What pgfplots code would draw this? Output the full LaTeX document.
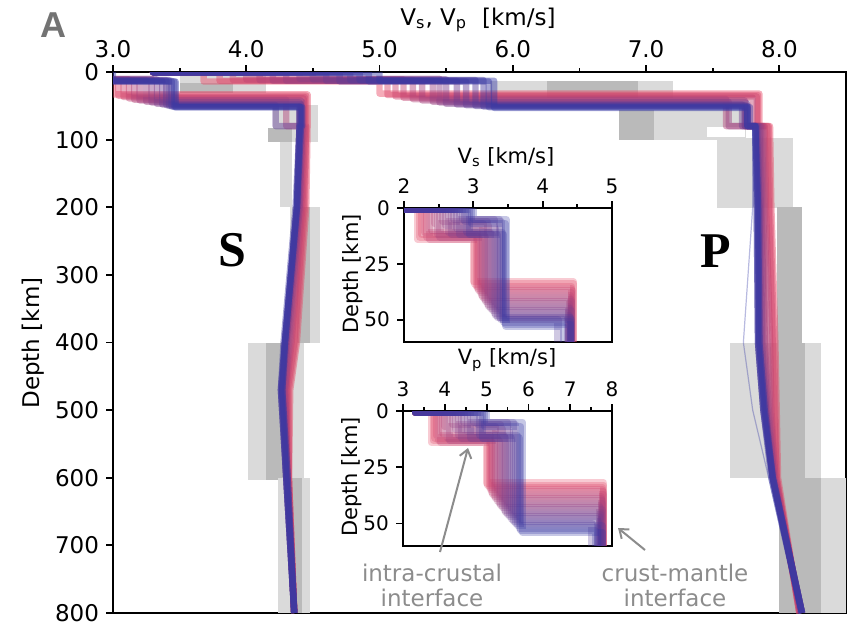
\documentclass[border=0pt]{standalone}
\usepackage{fontspec}
\setmainfont{DejaVu Sans}
\newfontfamily\bigserif{Liberation Serif}
\newfontfamily\panelfont{Liberation Sans}
\usepackage{pgfplots}
\pgfplotsset{compat=1.18}
\usetikzlibrary{arrows.meta}
\definecolor{myred}{RGB}{232,70,100}
\definecolor{myblue}{RGB}{52,56,165}
\definecolor{lgray}{RGB}{218,218,218}
\definecolor{dgray}{RGB}{186,186,186}
\definecolor{anno}{RGB}{140,140,140}
\pgfplotsset{
  every axis/.append style={
    /pgf/number format/assume math mode=true,
    tick align=outside, axis line style={line width=1pt},
    major tick length=3.5pt, minor tick length=2pt,
    tick style={black, line width=0.9pt},
    y dir=reverse, scale only axis, no markers,
    xtick pos=right, xticklabel pos=right, ytick pos=left,
  },
  prof/.style={draw=myred!#1!myblue, line width=3.2pt, opacity=0.45, line join=round},
  iprof/.style={draw=myred!#1!myblue, line width=3.6pt, opacity=0.28, line join=round},
  lbox/.style={fill=lgray, draw=none},
  dbox/.style={fill=dgray, draw=none},
}
\begin{document}
\begin{tikzpicture}
% ---------------- main axis ----------------
\begin{axis}[at={(56.5pt,-36pt)}, anchor=north west,
  width=366.5pt, height=270.5pt,
  xmin=3, xmax=8.5, ymin=0, ymax=800,
  xtick={3,4,5,6,7,8}, xticklabels={3.0,4.0,5.0,6.0,7.0,8.0},
  minor xtick={3.5,4.5,5.5,6.5,7.5},
  ytick={0,100,200,300,400,500,600,700,800},
  ticklabel style={font=\fontsize{11.5}{12}\selectfont},
]
% grey boxes: S
\addplot[lbox] coordinates {(3.5,4) (4.15,4) (4.15,31) (3.5,31)};
\addplot[dbox] coordinates {(3.5,16) (3.9,16) (3.9,31) (3.5,31)};
\addplot[lbox] coordinates {(4.2,49) (4.54,49) (4.54,103) (4.2,103)};
\addplot[dbox] coordinates {(4.16,83) (4.34,83) (4.34,103) (4.16,103)};
\addplot[lbox] coordinates {(4.25,103) (4.34,103) (4.34,200) (4.25,200)};
\addplot[lbox] coordinates {(4.33,200) (4.55,200) (4.55,401) (4.33,401)};
\addplot[dbox] coordinates {(4.38,200) (4.48,200) (4.48,401) (4.38,401)};
\addplot[lbox] coordinates {(4.01,400) (4.43,400) (4.43,603) (4.01,603)};
\addplot[dbox] coordinates {(4.15,400) (4.33,400) (4.33,603) (4.15,603)};
\addplot[lbox] coordinates {(4.24,600) (4.48,600) (4.48,800) (4.24,800)};
\addplot[dbox] coordinates {(4.33,600) (4.42,600) (4.42,800) (4.33,800)};
% grey boxes: P
\addplot[lbox] coordinates {(5.83,14) (7.2,14) (7.2,38) (5.83,38)};
\addplot[dbox] coordinates {(6.26,14) (6.94,14) (6.94,38) (6.26,38)};
\addplot[dbox] coordinates {(6.8,56) (7.06,56) (7.06,100) (6.8,100)};
\addplot[lbox] coordinates {(7.06,56) (7.75,56) (7.75,100) (7.06,100)};
\addplot[fill=white, draw=none] coordinates {(7.46,81) (7.74,81) (7.74,96) (7.46,96)};
\addplot[lbox] coordinates {(7.53,98) (8.1,98) (8.1,201) (7.53,201)};
\addplot[dbox] coordinates {(7.98,200) (8.17,200) (8.17,400) (7.98,400)};
\addplot[lbox] coordinates {(7.63,400) (8.31,400) (8.31,600) (7.63,600)};
\addplot[dbox] coordinates {(7.98,400) (8.19,400) (8.19,600) (7.98,600)};
\addplot[lbox] coordinates {(8.31,600) (8.5,600) (8.5,800) (8.31,800)};
\addplot[dbox] coordinates {(8.0,600) (8.31,600) (8.31,800) (8.0,800)};
% S profiles
\addplot[prof=100] coordinates {(2.0,0) (2.0,0.5) (2.20,0.5) (2.20,14) (3.00,14) (3.00,33) (4.46,33) (4.46,80) (4.46,80) (4.45,200) (4.38,400) (4.33,470) (4.32,600) (4.36,800)};
\addplot[prof=92] coordinates {(2.0,0) (2.0,0.5) (2.28,0.5) (2.28,13) (3.04,13) (3.04,35) (4.45,35) (4.45,80) (4.45,80) (4.44,200) (4.37,400) (4.32,470) (4.32,600) (4.36,800)};
\addplot[prof=85] coordinates {(2.0,0) (2.0,0.5) (2.35,0.5) (2.35,12) (3.08,12) (3.08,37) (4.44,37) (4.44,80) (4.45,80) (4.43,200) (4.36,400) (4.31,470) (4.32,600) (4.36,800)};
\addplot[prof=78] coordinates {(2.0,0) (2.0,0.5) (2.42,0.5) (2.42,11) (3.12,11) (3.12,39) (4.43,39) (4.43,80) (4.44,80) (4.42,200) (4.34,400) (4.30,470) (4.31,600) (4.36,800)};
\addplot[prof=70] coordinates {(2.0,0) (2.0,0.5) (2.50,0.5) (2.50,12) (3.16,12) (3.16,41) (4.30,41) (4.30,80) (4.43,80) (4.41,200) (4.33,400) (4.29,470) (4.31,600) (4.36,800)};
\addplot[prof=62] coordinates {(2.0,0) (2.0,0.5) (2.58,0.5) (2.58,13) (3.20,13) (3.20,42) (4.41,42) (4.41,80) (4.42,80) (4.40,200) (4.32,400) (4.29,470) (4.31,600) (4.36,800)};
\addplot[prof=55] coordinates {(2.0,0) (2.0,0.5) (2.65,0.5) (2.65,12) (3.25,12) (3.25,44) (4.42,44) (4.42,80) (4.42,80) (4.40,200) (4.31,400) (4.28,470) (4.31,600) (4.36,800)};
\addplot[prof=48] coordinates {(2.0,0) (2.0,0.5) (2.72,0.5) (2.72,10) (3.29,10) (3.29,45) (4.40,45) (4.40,80) (4.41,80) (4.39,200) (4.30,400) (4.27,470) (4.31,600) (4.36,800)};
\addplot[prof=40] coordinates {(2.0,0) (2.0,0.5) (2.80,0.5) (2.80,11) (3.33,11) (3.33,47) (4.41,47) (4.41,80) (4.41,80) (4.39,200) (4.30,400) (4.27,470) (4.31,600) (4.36,800)};
\addplot[prof=32] coordinates {(2.0,0) (2.0,0.5) (2.85,0.5) (2.85,13) (3.37,13) (3.37,48) (4.41,48) (4.41,80) (4.40,80) (4.38,200) (4.29,400) (4.27,470) (4.30,600) (4.36,800)};
\addplot[prof=25] coordinates {(2.0,0) (2.0,0.5) (2.90,0.5) (2.90,12) (3.40,12) (3.40,49) (4.22,49) (4.22,80) (4.40,80) (4.38,200) (4.29,400) (4.27,470) (4.30,600) (4.36,800)};
\addplot[prof=18] coordinates {(2.0,0) (2.0,0.5) (2.92,0.5) (2.92,12) (3.42,12) (3.42,50) (4.40,50) (4.40,80) (4.40,80) (4.38,200) (4.29,400) (4.26,470) (4.30,600) (4.36,800)};
\addplot[prof=10] coordinates {(2.0,0) (2.0,0.5) (2.95,0.5) (2.95,13) (3.44,13) (3.44,51) (4.40,51) (4.40,80) (4.40,80) (4.38,200) (4.29,400) (4.26,470) (4.30,600) (4.36,800)};
\addplot[prof=5] coordinates {(2.0,0) (2.0,0.5) (2.98,0.5) (2.98,14) (3.46,14) (3.46,52) (4.41,52) (4.41,80) (4.40,80) (4.37,200) (4.28,400) (4.26,470) (4.30,600) (4.36,800)};
\addplot[prof=0] coordinates {(2.0,0) (2.0,0.5) (3.00,0.5) (3.00,14) (3.47,14) (3.47,52) (4.42,52) (4.42,80) (4.41,80) (4.38,200) (4.29,400) (4.27,470) (4.31,600) (4.36,800)};
% P profiles
\addplot[prof=100] coordinates {(3.3,0) (3.3,0.5) (3.68,0.5) (3.68,14) (5.00,14) (5.00,32) (7.85,32) (7.85,80) (7.93,80) (7.94,200) (7.97,400) (7.98,500) (7.99,600) (8.15,800)};
\addplot[prof=92] coordinates {(3.3,0) (3.3,0.5) (3.80,0.5) (3.80,13) (5.06,13) (5.06,34) (7.84,34) (7.84,80) (7.92,80) (7.93,200) (7.96,400) (7.97,500) (7.98,600) (8.15,800)};
\addplot[prof=85] coordinates {(3.3,0) (3.3,0.5) (3.90,0.5) (3.90,12) (5.12,12) (5.12,36) (7.83,36) (7.83,80) (7.91,80) (7.92,200) (7.95,400) (7.96,500) (7.98,600) (8.15,800)};
\addplot[prof=78] coordinates {(3.3,0) (3.3,0.5) (4.00,0.5) (4.00,11) (5.18,11) (5.18,38) (7.80,38) (7.80,80) (7.89,80) (7.90,200) (7.93,400) (7.94,500) (7.97,600) (8.16,800)};
\addplot[prof=70] coordinates {(3.3,0) (3.3,0.5) (4.10,0.5) (4.10,12) (5.25,12) (5.25,40) (7.60,40) (7.60,80) (7.88,80) (7.89,200) (7.91,400) (7.93,500) (7.97,600) (8.16,800)};
\addplot[prof=62] coordinates {(3.3,0) (3.3,0.5) (4.20,0.5) (4.20,13) (5.32,13) (5.32,42) (7.74,42) (7.74,80) (7.87,80) (7.88,200) (7.89,400) (7.92,500) (7.96,600) (8.16,800)};
\addplot[prof=55] coordinates {(3.3,0) (3.3,0.5) (4.30,0.5) (4.30,13) (5.40,13) (5.40,44) (7.62,44) (7.62,80) (7.86,80) (7.87,200) (7.88,400) (7.91,500) (7.96,600) (8.16,800)};
\addplot[prof=48] coordinates {(3.3,0) (3.3,0.5) (4.40,0.5) (4.40,10) (5.45,10) (5.45,45) (7.75,45) (7.75,80) (7.85,80) (7.86,200) (7.87,400) (7.90,500) (7.95,600) (8.17,800)};
\addplot[prof=40] coordinates {(3.3,0) (3.3,0.5) (4.50,0.5) (4.50,11) (5.50,11) (5.50,47) (7.76,47) (7.76,80) (7.84,80) (7.85,200) (7.86,400) (7.90,500) (7.95,600) (8.17,800)};
\addplot[prof=32] coordinates {(3.3,0) (3.3,0.5) (4.60,0.5) (4.60,13) (5.58,13) (5.58,48) (7.72,48) (7.72,80) (7.83,80) (7.85,200) (7.85,400) (7.89,500) (7.95,600) (8.17,800)};
\addplot[prof=25] coordinates {(3.3,0) (3.3,0.5) (4.70,0.5) (4.70,14) (5.65,14) (5.65,49) (7.74,49) (7.74,80) (7.83,80) (7.84,200) (7.85,400) (7.89,500) (7.95,600) (8.17,800)};
\addplot[prof=18] coordinates {(3.3,0) (3.3,0.5) (4.78,0.5) (4.78,12) (5.72,12) (5.72,50) (7.76,50) (7.76,80) (7.82,80) (7.84,200) (7.84,400) (7.88,500) (7.95,600) (8.17,800)};
\addplot[prof=10] coordinates {(3.3,0) (3.3,0.5) (4.85,0.5) (4.85,12) (5.78,12) (5.78,51) (7.76,51) (7.76,80) (7.82,80) (7.83,200) (7.84,400) (7.88,500) (7.95,600) (8.17,800)};
\addplot[prof=5] coordinates {(3.3,0) (3.3,0.5) (4.92,0.5) (4.92,14) (5.82,14) (5.82,52) (7.78,52) (7.78,80) (7.82,80) (7.83,200) (7.84,400) (7.88,500) (7.94,600) (8.17,800)};
\addplot[prof=0] coordinates {(3.3,0) (3.3,0.5) (5.00,0.5) (5.00,13) (5.86,13) (5.86,53) (7.76,53) (7.76,80) (7.82,80) (7.84,200) (7.85,400) (7.89,500) (7.95,600) (8.17,800)};
\addplot[draw=myblue, line width=0.6pt, opacity=0.35] coordinates {(7.80,80) (7.80,200) (7.73,400) (7.80,500) (7.92,600) (8.15,800)};
\end{axis}
% ---------------- inset Vs ----------------
\begin{axis}[at={(202pt,-104pt)}, anchor=north west,
  width=104pt, height=67pt,
  xmin=2, xmax=5, ymin=0, ymax=60,
  xtick={2,3,4,5}, minor xtick={2.5,3.5,4.5},
  ytick={0,25,50},
  ticklabel style={font=\fontsize{10}{10}\selectfont},
  axis background/.style={fill=white},
]
\addplot[iprof=100] coordinates {(2.0,0) (2.0,0.6) (2.20,0.6) (2.20,14) (3.00,14) (3.00,33) (4.44,33) (4.44,60)};
\addplot[iprof=95] coordinates {(2.0,0) (2.0,0.6) (2.23,0.6) (2.23,13) (3.02,13) (3.02,34) (4.45,34) (4.45,60)};
\addplot[iprof=91] coordinates {(2.0,0) (2.0,0.6) (2.26,0.6) (2.26,12) (3.04,12) (3.04,35) (4.42,35) (4.42,60)};
\addplot[iprof=86] coordinates {(2.0,0) (2.0,0.6) (2.30,0.6) (2.30,11) (3.06,11) (3.06,36) (4.41,36) (4.41,60)};
\addplot[iprof=82] coordinates {(2.0,0) (2.0,0.6) (2.33,0.6) (2.33,13) (3.08,13) (3.08,37) (4.43,37) (4.43,60)};
\addplot[iprof=77] coordinates {(2.0,0) (2.0,0.6) (2.37,0.6) (2.37,14) (3.10,14) (3.10,38) (4.42,38) (4.42,60)};
\addplot[iprof=73] coordinates {(2.0,0) (2.0,0.6) (2.40,0.6) (2.40,10) (3.12,10) (3.12,39) (4.40,39) (4.40,60)};
\addplot[iprof=68] coordinates {(2.0,0) (2.0,0.6) (2.44,0.6) (2.44,7) (3.14,7) (3.14,40) (4.39,40) (4.39,60)};
\addplot[iprof=64] coordinates {(2.0,0) (2.0,0.6) (2.48,0.6) (2.48,12) (3.16,12) (3.16,41) (4.41,41) (4.41,60)};
\addplot[iprof=59] coordinates {(2.0,0) (2.0,0.6) (2.52,0.6) (2.52,13) (3.18,13) (3.18,42) (4.42,42) (4.42,60)};
\addplot[iprof=55] coordinates {(2.0,0) (2.0,0.6) (2.56,0.6) (2.56,6) (3.20,6) (3.20,43) (4.38,43) (4.38,60)};
\addplot[iprof=50] coordinates {(2.0,0) (2.0,0.6) (2.60,0.6) (2.60,8) (3.22,8) (3.22,44) (4.37,44) (4.37,60)};
\addplot[iprof=45] coordinates {(2.0,0) (2.0,0.6) (2.64,0.6) (2.64,11) (3.25,11) (3.25,45) (4.40,45) (4.40,60)};
\addplot[iprof=41] coordinates {(2.0,0) (2.0,0.6) (2.68,0.6) (2.68,12) (3.28,12) (3.28,46) (4.41,46) (4.41,60)};
\addplot[iprof=36] coordinates {(2.0,0) (2.0,0.6) (2.72,0.6) (2.72,5) (3.30,5) (3.30,47) (4.36,47) (4.36,60)};
\addplot[iprof=32] coordinates {(2.0,0) (2.0,0.6) (2.76,0.6) (2.76,9) (3.32,9) (3.32,48) (4.38,48) (4.38,60)};
\addplot[iprof=27] coordinates {(2.0,0) (2.0,0.6) (2.80,0.6) (2.80,12) (3.35,12) (3.35,49) (4.40,49) (4.40,60)};
\addplot[iprof=23] coordinates {(2.0,0) (2.0,0.6) (2.84,0.6) (2.84,5) (3.38,5) (3.38,49) (4.40,49) (4.40,60)};
\addplot[iprof=18] coordinates {(2.0,0) (2.0,0.6) (2.88,0.6) (2.88,6) (3.40,6) (3.40,50) (4.22,50) (4.22,60)};
\addplot[iprof=14] coordinates {(2.0,0) (2.0,0.6) (2.91,0.6) (2.91,11) (3.42,11) (3.42,50) (4.41,50) (4.41,60)};
\addplot[iprof=9] coordinates {(2.0,0) (2.0,0.6) (2.94,0.6) (2.94,12) (3.44,12) (3.44,51) (4.40,51) (4.40,60)};
\addplot[iprof=5] coordinates {(2.0,0) (2.0,0.6) (2.97,0.6) (2.97,7) (3.46,7) (3.46,52) (4.40,52) (4.40,60)};
\addplot[iprof=0] coordinates {(2.0,0) (2.0,0.6) (3.00,0.6) (3.00,5) (3.47,5) (3.47,53) (4.30,53) (4.30,60)};
\end{axis}
% ---------------- inset Vp ----------------
\begin{axis}[at={(201.5pt,-205.5pt)}, anchor=north west,
  width=104.5pt, height=67.5pt,
  xmin=3, xmax=8, ymin=0, ymax=60,
  xtick={3,4,5,6,7,8}, minor xtick={3.5,4.5,5.5,6.5,7.5},
  ytick={0,25,50},
  ticklabel style={font=\fontsize{10}{10}\selectfont},
  axis background/.style={fill=white},
]
\addplot[iprof=100] coordinates {(3.3,0) (3.3,0.6) (3.68,0.6) (3.68,14) (5.00,14) (5.00,32) (7.80,32) (7.80,60)};
\addplot[iprof=95] coordinates {(3.3,0) (3.3,0.6) (3.72,0.6) (3.72,13) (5.03,13) (5.03,33) (7.79,33) (7.79,60)};
\addplot[iprof=91] coordinates {(3.3,0) (3.3,0.6) (3.76,0.6) (3.76,12) (5.06,12) (5.06,34) (7.78,34) (7.78,60)};
\addplot[iprof=86] coordinates {(3.3,0) (3.3,0.6) (3.80,0.6) (3.80,11) (5.09,11) (5.09,35) (7.77,35) (7.77,60)};
\addplot[iprof=82] coordinates {(3.3,0) (3.3,0.6) (3.85,0.6) (3.85,13) (5.12,13) (5.12,36) (7.80,36) (7.80,60)};
\addplot[iprof=77] coordinates {(3.3,0) (3.3,0.6) (3.90,0.6) (3.90,14) (5.15,14) (5.15,37) (7.79,37) (7.79,60)};
\addplot[iprof=73] coordinates {(3.3,0) (3.3,0.6) (3.95,0.6) (3.95,10) (5.18,10) (5.18,38) (7.75,38) (7.75,60)};
\addplot[iprof=68] coordinates {(3.3,0) (3.3,0.6) (4.00,0.6) (4.00,7) (5.22,7) (5.22,39) (7.74,39) (7.74,60)};
\addplot[iprof=64] coordinates {(3.3,0) (3.3,0.6) (4.06,0.6) (4.06,12) (5.26,12) (5.26,40) (7.78,40) (7.78,60)};
\addplot[iprof=59] coordinates {(3.3,0) (3.3,0.6) (4.12,0.6) (4.12,13) (5.30,13) (5.30,41) (7.77,41) (7.77,60)};
\addplot[iprof=55] coordinates {(3.3,0) (3.3,0.6) (4.18,0.6) (4.18,6) (5.34,6) (5.34,42) (7.70,42) (7.70,60)};
\addplot[iprof=50] coordinates {(3.3,0) (3.3,0.6) (4.25,0.6) (4.25,8) (5.38,8) (5.38,43) (7.72,43) (7.72,60)};
\addplot[iprof=45] coordinates {(3.3,0) (3.3,0.6) (4.32,0.6) (4.32,11) (5.42,11) (5.42,44) (7.76,44) (7.76,60)};
\addplot[iprof=41] coordinates {(3.3,0) (3.3,0.6) (4.39,0.6) (4.39,12) (5.46,12) (5.46,45) (7.75,45) (7.75,60)};
\addplot[iprof=36] coordinates {(3.3,0) (3.3,0.6) (4.46,0.6) (4.46,5) (5.50,5) (5.50,46) (7.72,46) (7.72,60)};
\addplot[iprof=32] coordinates {(3.3,0) (3.3,0.6) (4.54,0.6) (4.54,9) (5.55,9) (5.55,47) (7.70,47) (7.70,60)};
\addplot[iprof=27] coordinates {(3.3,0) (3.3,0.6) (4.62,0.6) (4.62,12) (5.60,12) (5.60,48) (7.66,48) (7.66,60)};
\addplot[iprof=23] coordinates {(3.3,0) (3.3,0.6) (4.70,0.6) (4.70,5) (5.65,5) (5.65,49) (7.68,49) (7.68,60)};
\addplot[iprof=18] coordinates {(3.3,0) (3.3,0.6) (4.78,0.6) (4.78,6) (5.70,6) (5.70,50) (7.52,50) (7.52,60)};
\addplot[iprof=14] coordinates {(3.3,0) (3.3,0.6) (4.84,0.6) (4.84,11) (5.74,11) (5.74,51) (7.76,51) (7.76,60)};
\addplot[iprof=9] coordinates {(3.3,0) (3.3,0.6) (4.90,0.6) (4.90,12) (5.78,12) (5.78,52) (7.66,52) (7.66,60)};
\addplot[iprof=5] coordinates {(3.3,0) (3.3,0.6) (4.95,0.6) (4.95,7) (5.82,7) (5.82,53) (7.60,53) (7.60,60)};
\addplot[iprof=0] coordinates {(3.3,0) (3.3,0.6) (5.00,0.6) (5.00,5) (5.86,5) (5.86,54) (7.78,54) (7.78,60)};
\end{axis}
% ---------------- labels ----------------
\node[font=\panelfont\bfseries\fontsize{18}{18}\selectfont, text=black!55] at (26.5pt,-12.5pt) {A};
\node[font=\fontsize{11.5}{12}\selectfont] at (239pt,-10pt) {V\textsubscript{s}, V\textsubscript{p}\,\, [km/s]};
\node[font=\fontsize{11.5}{12}\selectfont, rotate=90] at (16.5pt,-171.5pt) {Depth [km]};
\node[font=\bigserif\bfseries\fontsize{25}{25}\selectfont] at (116pt,-125pt) {S};
\node[font=\bigserif\bfseries\fontsize{25}{25}\selectfont] at (358pt,-125.5pt) {P};
\node[font=\fontsize{10.5}{11}\selectfont] at (253pt,-78.5pt) {V\textsubscript{s} [km/s]};
\node[font=\fontsize{10.5}{11}\selectfont, rotate=90] at (176.5pt,-137pt) {Depth [km]};
\node[font=\fontsize{10.5}{11}\selectfont] at (253.5pt,-180pt) {V\textsubscript{p} [km/s]};
\node[font=\fontsize{10.5}{11}\selectfont, rotate=90] at (176pt,-238.5pt) {Depth [km]};
\node[font=\fontsize{11.5}{12.5}\selectfont, text=anno, align=center] at (216pt,-292.5pt) {intra-crustal\\interface};
\node[font=\fontsize{11.5}{12.5}\selectfont, text=anno, align=center] at (337.5pt,-292.5pt) {crust-mantle\\interface};
\draw[anno, line width=1pt, -{Straight Barb[length=4pt,width=6pt]}] (220pt,-276pt) -- (234pt,-224pt);
\draw[anno, line width=1pt, -{Straight Barb[length=4pt,width=6pt]}] (322.5pt,-275pt) -- (309pt,-264pt);
\pgfresetboundingbox
\path[use as bounding box] (0,0) rectangle (425pt,-313pt);
\end{tikzpicture}
\end{document}
